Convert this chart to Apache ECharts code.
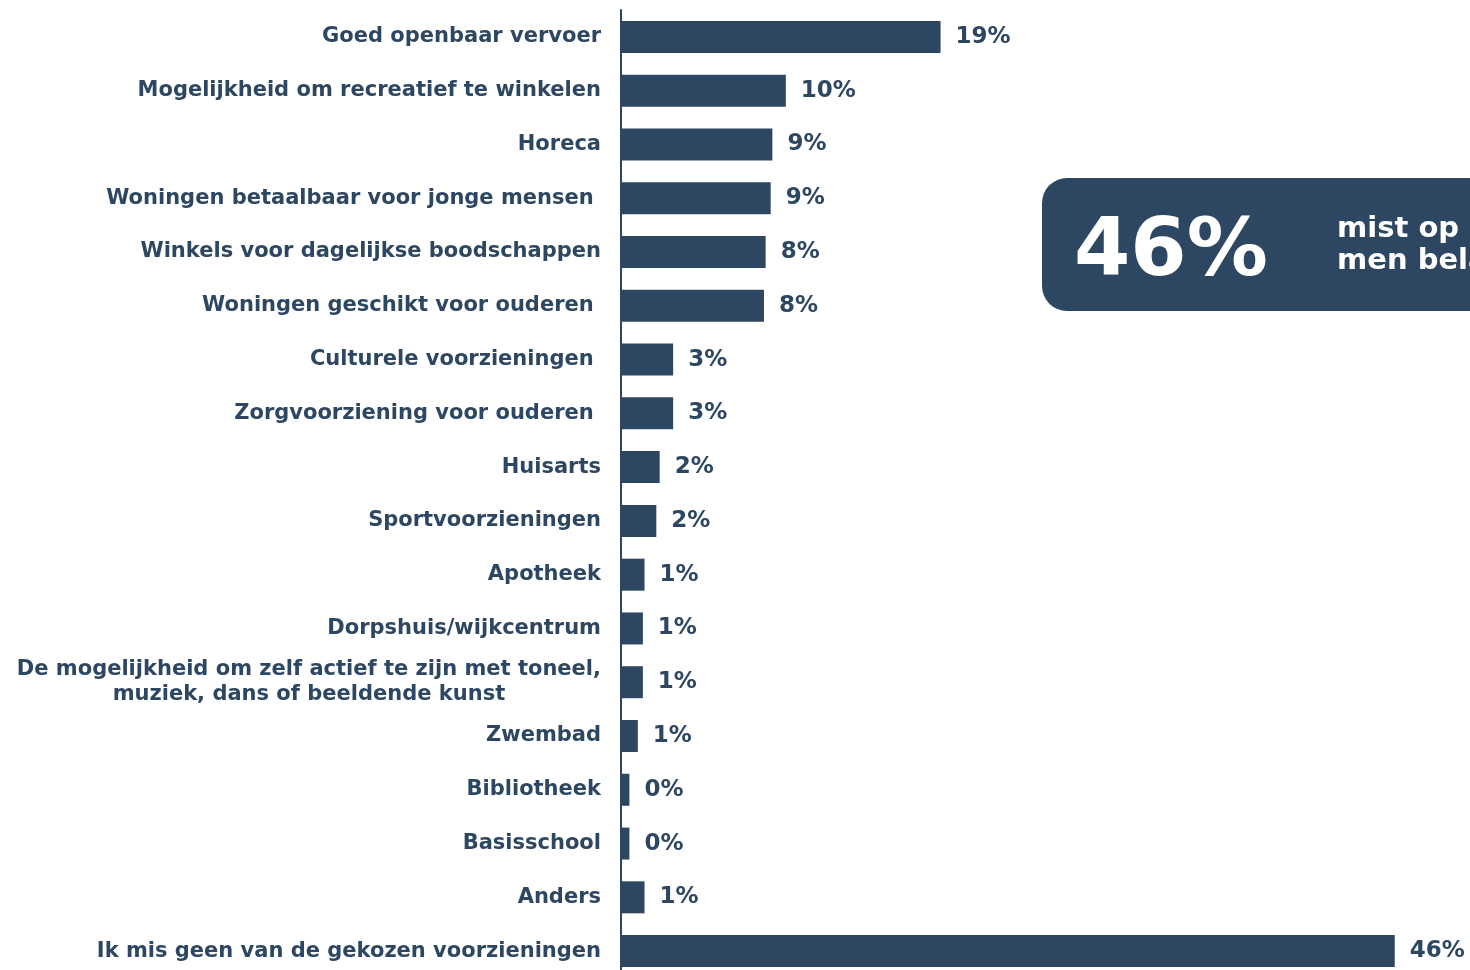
<!DOCTYPE html>
<html><head><meta charset="utf-8">
<script src="https://cdn.jsdelivr.net/npm/echarts@6/dist/echarts.min.js"></script>
<style>html,body{margin:0;padding:0;background:#fff;}#c{width:1470px;height:970px;}</style>
</head><body><div id="c"></div>
<script>
const categories = [
  'Goed openbaar vervoer',
  'Mogelijkheid om recreatief te winkelen',
  'Horeca',
  'Woningen betaalbaar voor jonge mensen ',
  'Winkels voor dagelijkse boodschappen',
  'Woningen geschikt voor ouderen ',
  'Culturele voorzieningen ',
  'Zorgvoorziening voor ouderen ',
  'Huisarts',
  'Sportvoorzieningen',
  'Apotheek',
  'Dorpshuis/wijkcentrum',
  'De mogelijkheid om zelf actief te zijn met toneel,\nmuziek, dans of beeldende kunst',
  'Zwembad',
  'Bibliotheek',
  'Basisschool',
  'Anders',
  'Ik mis geen van de gekozen voorzieningen'
];
const values = [19.0, 9.8, 9.0, 8.9, 8.6, 8.5, 3.1, 3.1, 2.3, 2.1, 1.4, 1.3, 1.3, 1.0, 0.5, 0.5, 1.4, 46.0];
const valueLabels = ['19%','10%','9%','9%','8%','8%','3%','3%','2%','2%','1%','1%','1%','1%','0%','0%','1%','46%'];
const calloutValue = '46%';
const calloutText = 'mist op dit moment\nmen belangrijke voorzieningen';

const NAVY = '#2d4763';
const FONT = '"DejaVu Sans", Verdana, sans-serif';
const FS = 21;
const VFS = 23;

const cv = document.createElement('canvas').getContext('2d');
cv.font = 'bold ' + FS + 'px ' + FONT;

const chart = echarts.init(document.getElementById('c'));
chart.setOption({
  animation: false,
  grid: { left: 621, right: 8, top: 10, height: 968, containLabel: false, outerBoundsMode: 'none' },
  xAxis: { type: 'value', min: 0, max: 50, show: false },
  yAxis: {
    type: 'category', data: categories, inverse: true,
    axisLine: { show: true, lineStyle: { color: NAVY, width: 2 } },
    axisTick: { show: false },
    axisLabel: {
      margin: 20, color: NAVY, fontFamily: FONT, fontWeight: 'bold', fontSize: FS,
      lineHeight: 25,
      formatter: function (v) {
        if (v.indexOf('\n') < 0) return v;
        return v.split('\n').map(l => '{c|' + l + '}').join('\n');
      },
      rich: {
        c: {
          color: NAVY, fontFamily: FONT, fontWeight: 'bold', fontSize: FS, lineHeight: 25,
          align: 'center',
          width: Math.max.apply(null, categories.filter(c => c.indexOf('\n') >= 0)
                  .map(c => Math.max.apply(null, c.split('\n').map(l => cv.measureText(l).width))))
        }
      }
    }
  },
  series: [{
    type: 'bar', data: values, barWidth: 32,
    itemStyle: { color: NAVY },
    label: {
      show: true, position: 'right', distance: 15,
      color: NAVY, fontFamily: FONT, fontWeight: 'bold', fontSize: VFS,
      formatter: p => valueLabels[p.dataIndex]
    }
  }],
  graphic: [{
    type: 'group', left: 1042, top: 178,
    children: [
      { type: 'rect', shape: { x: 0, y: 0, width: 480, height: 133, r: 25 }, style: { fill: NAVY } },
      { type: 'text', x: 32, y: 76, style: { text: calloutValue, fill: '#fff', font: 'bold 81px ' + FONT, textVerticalAlign: 'middle' } },
      { type: 'text', x: 295, y: 67, style: { text: calloutText, fill: '#fff', font: 'bold 29px ' + FONT, lineHeight: 32, textVerticalAlign: 'middle' } }
    ]
  }]
});
</script></body></html>
